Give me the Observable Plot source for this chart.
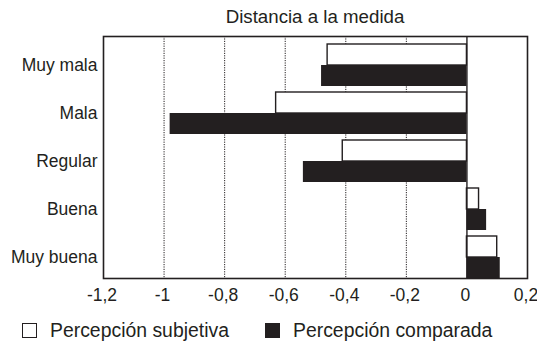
<!DOCTYPE html>
<html><head><meta charset="utf-8">
<script src="https://cdn.jsdelivr.net/npm/d3@7"></script>
<script src="https://cdn.jsdelivr.net/npm/@observablehq/plot@0.6"></script>
<style>
body{margin:0;background:#fff;font-family:"Liberation Sans",Arial,sans-serif;color:#231f20;}
#title{height:28px;margin-left:103px;width:424px;text-align:center;font-size:18.7px;line-height:34px;}
#legend{height:39px;position:relative;font-size:19.4px;}
.item{position:absolute;top:8px;display:flex;align-items:center;line-height:24px;}
.sw{width:15px;height:15px;box-sizing:border-box;border:1.3px solid #231f20;margin-right:13px;}
</style></head>
<body>
<div id="title">Distancia a la medida</div>
<div id="chart"></div>
<div id="legend">
<div class="item" style="left:22px"><span class="sw" style="background:#fff"></span>Percepción subjetiva</div>
<div class="item" style="left:265px"><span class="sw" style="background:#231f20"></span>Percepción comparada</div>
</div>
<script>
const categories = ["Muy mala","Mala","Regular","Buena","Muy buena"];
const subjetiva = [-0.46,-0.63,-0.41,0.04,0.10];
const comparada = [-0.48,-0.98,-0.54,0.065,0.11];
const xTicks = [-1.2,-1,-0.8,-0.6,-0.4,-0.2,0,0.2];
const gridTicks = [-1,-0.8,-0.6,-0.4,-0.2];

const subjData = categories.map((c,i)=>({cat:c, v:subjetiva[i]}));
const compData = categories.map((c,i)=>({cat:c, v:comparada[i]}));
const ink = "#231f20";
const font = '"Liberation Sans",Arial,sans-serif';

const plot = Plot.plot({
  width:537, height:282,
  marginLeft:103, marginRight:10, marginTop:8, marginBottom:32,
  style:{fontFamily:font, fontSize:"17.5px", color:ink, background:"#fff"},
  x:{domain:[-1.2,0.2]},
  y:{domain:categories, range:[15,251], paddingInner:0.134, paddingOuter:0},
  marks:[
    Plot.ruleX(gridTicks,{stroke:ink, strokeWidth:1, strokeDasharray:"1.2,1.2"}),
    Plot.barX(subjData,{y:"cat", x1:0, x2:"v", fill:"#fff", stroke:ink, strokeWidth:1.4, insetBottom:21}),
    Plot.barX(compData,{y:"cat", x1:0, x2:"v", fill:ink, insetTop:21}),
    Plot.ruleX([0],{stroke:ink, strokeWidth:1.4}),
    Plot.frame({stroke:ink, strokeWidth:1.6}),
    Plot.axisX({ticks:xTicks, tickSize:0, tickPadding:10, dx:-1.5, tickFormat:d=>String(d).replace(".",","), fontSize:17.5, label:null}),
    Plot.axisY({tickSize:0, tickPadding:6, fontSize:17.5, label:null})
  ]
});
document.getElementById("chart").appendChild(plot);
</script>
</body></html>
